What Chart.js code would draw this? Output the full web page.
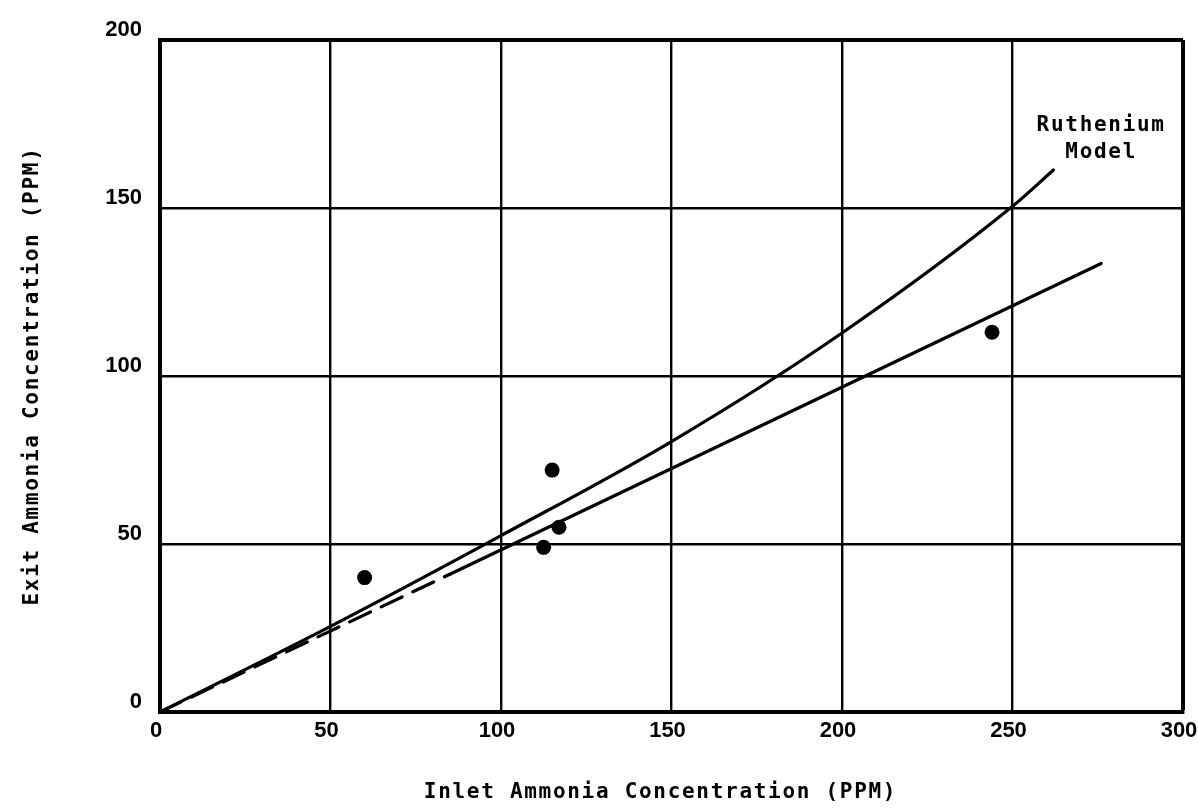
<!DOCTYPE html>
<html>
<head>
<meta charset="utf-8">
<script src="https://cdn.jsdelivr.net/npm/chart.js@4/dist/chart.umd.min.js"></script>
<style>
  html, body { margin: 0; padding: 0; background: #fff; }
  #wrap { width: 1198px; height: 810px; }
</style>
</head>
<body>
<div id="wrap"><canvas id="c" width="1198" height="810"></canvas></div>
<script>
// Inlet vs exit ammonia concentration (PPM)
const xTicks = [0, 50, 100, 150, 200, 250, 300];
const yTicks = [0, 50, 100, 150, 200];

// Measured points
const measuredInlet = [60, 112.5, 115, 117, 244];
const measuredExit  = [40, 49, 72, 55, 113];

// Ruthenium model curve
const modelInlet = [0, 50, 100, 150, 200, 250, 262];
const modelExit  = [0, 25.5, 52.5, 80.5, 112.8, 150.5, 161.3];

// Straight fit line (dashed at low inlet concentration)
const fitInlet = [0, 85, 276];
const fitExit  = [0, 41, 133.5];
const fitDashedUpTo = 85;

// Curve caption, anchored in data units
const modelCaption = ['Ruthenium', 'Model'];
const modelCaptionX = 276;
const modelCaptionY = [174.4, 166.4];

const pairs = (xs, ys) => xs.map((x, i) => ({ x, y: ys[i] }));

const ink = '#000';
const monoFamily = "'DejaVu Sans Mono', 'Liberation Mono', monospace";
const monoFont = { family: monoFamily, size: 21, weight: 'bold' };
const tickFont = { family: "'Liberation Sans', Arial, sans-serif", size: 22, weight: 'bold' };
const monoSpacing = '1.7px';

// Typewriter-style spacing for the axis titles; the x title sits a little left of centre
const spacedTitles = {
  id: 'spacedTitles',
  beforeDraw(chart) {
    for (const s of Object.values(chart.scales)) {
      if (s._spacedTitle) continue;
      const orig = s.drawTitle.bind(s);
      const shiftX = s.axis === 'x' ? -11 : 0;
      s.drawTitle = function () {
        const c = this.ctx;
        c.save();
        c.letterSpacing = monoSpacing;
        c.translate(shiftX, 0);
        orig();
        c.restore();
      };
      s._spacedTitle = true;
    }
  }
};

// Caption beside the end of the model curve
const curveCaption = {
  id: 'curveCaption',
  afterDatasetsDraw(chart) {
    const { ctx, scales: { x, y } } = chart;
    ctx.save();
    ctx.letterSpacing = monoSpacing;
    ctx.font = `${monoFont.weight} ${monoFont.size}px ${monoFamily}`;
    ctx.fillStyle = ink;
    ctx.textAlign = 'center';
    ctx.textBaseline = 'middle';
    modelCaption.forEach((line, i) => {
      ctx.fillText(line, x.getPixelForValue(modelCaptionX), y.getPixelForValue(modelCaptionY[i]));
    });
    ctx.restore();
  }
};

const edgeWidth = (max) => (ctx) => (ctx.tick && ctx.tick.value === max ? 4 : 2.4);

new Chart(document.getElementById('c'), {
  type: 'scatter',
  data: {
    datasets: [
      {
        label: 'Ruthenium Model',
        data: pairs(modelInlet, modelExit),
        showLine: true,
        borderColor: ink,
        borderWidth: 3.2,
        pointRadius: 0,
        tension: 0.4,
        cubicInterpolationMode: 'monotone',
        borderCapStyle: 'round'
      },
      {
        label: 'Fit',
        data: pairs(fitInlet, fitExit),
        showLine: true,
        borderColor: ink,
        borderWidth: 3.2,
        pointRadius: 0,
        borderCapStyle: 'round',
        segment: {
          borderDash: (ctx) => (ctx.p1.parsed.x <= fitDashedUpTo ? [23, 12] : undefined)
        }
      },
      {
        label: 'Measured',
        data: pairs(measuredInlet, measuredExit),
        showLine: false,
        pointRadius: 7.5,
        pointHoverRadius: 7.5,
        pointBackgroundColor: ink,
        pointBorderColor: ink,
        pointBorderWidth: 0
      }
    ]
  },
  options: {
    responsive: false,
    animation: false,
    events: [],
    layout: { autoPadding: false, padding: { top: 40, right: 15, left: 0, bottom: 0 } },
    plugins: {
      legend: { display: false },
      tooltip: { enabled: false }
    },
    scales: {
      x: {
        type: 'linear',
        min: xTicks[0],
        max: xTicks[xTicks.length - 1],
        afterBuildTicks: (s) => { s.ticks = xTicks.map(v => ({ value: v })); },
        afterFit: (s) => { s.height = 98; s.paddingLeft = 0; s.paddingRight = 0; },
        grid: { color: ink, lineWidth: edgeWidth(300), drawTicks: false },
        border: { display: true, color: ink, width: 4 },
        ticks: { color: ink, font: tickFont, padding: 6, maxRotation: 0, labelOffset: -4 },
        title: {
          display: true,
          text: 'Inlet Ammonia Concentration (PPM)',
          color: ink,
          font: monoFont,
          padding: { top: 0, bottom: 5 }
        }
      },
      y: {
        type: 'linear',
        min: yTicks[0],
        max: yTicks[yTicks.length - 1],
        afterBuildTicks: (s) => { s.ticks = yTicks.map(v => ({ value: v })); },
        afterFit: (s) => { s.width = 160; s.paddingTop = 0; s.paddingBottom = 0; },
        grid: { color: ink, lineWidth: edgeWidth(200), drawTicks: false },
        border: { display: true, color: ink, width: 4 },
        ticks: { color: ink, font: tickFont, padding: 18, labelOffset: -10 },
        title: {
          display: true,
          text: 'Exit Ammonia Concentration (PPM)',
          color: ink,
          font: monoFont,
          padding: { top: 20, bottom: 0 }
        }
      }
    }
  },
  plugins: [spacedTitles, curveCaption]
});
</script>
</body>
</html>
